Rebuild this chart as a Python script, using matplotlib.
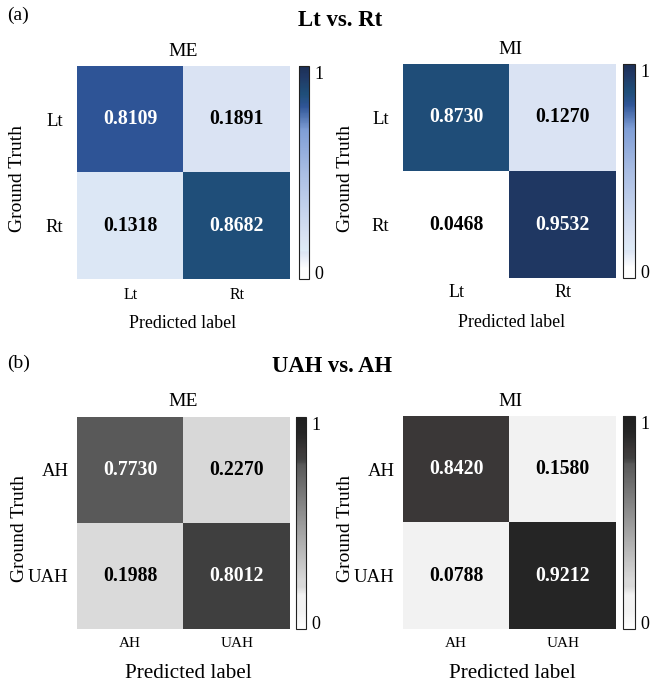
import matplotlib
matplotlib.use("Agg")
import matplotlib.pyplot as plt
from matplotlib.colors import LinearSegmentedColormap
import numpy as np

plt.rcParams["font.family"] = ["Liberation Serif", "DejaVu Serif"]

# data
lr_labels = ["Lt", "Rt"]
lr_me = [[0.8109, 0.1891], [0.1318, 0.8682]]
lr_mi = [[0.8730, 0.1270], [0.0468, 0.9532]]
ah_labels = ["AH", "UAH"]
ah_me = [[0.7730, 0.2270], [0.1988, 0.8012]]
ah_mi = [[0.8420, 0.1580], [0.0788, 0.9212]]

# colour maps anchored on the cell shades
BLUES = LinearSegmentedColormap.from_list("blues_x", [
    (0.0, "#ffffff"), (0.0468, "#ffffff"), (0.127, "#dae3f3"), (0.1318, "#deebf7"),
    (0.1891, "#dae3f3"), (0.5, "#a9bde3"), (0.7, "#7f9ed6"), (0.8109, "#2f5597"),
    (0.8682, "#1f4e79"), (0.873, "#1f4e79"), (0.9532, "#203864"), (1.0, "#1c2f55")])
GREYS = LinearSegmentedColormap.from_list("greys_x", [
    (0.0, "#ffffff"), (0.0788, "#f2f2f2"), (0.158, "#f2f2f2"), (0.1988, "#d9d9d9"),
    (0.227, "#d9d9d9"), (0.773, "#595959"), (0.8012, "#404040"), (0.842, "#3b3838"),
    (0.9212, "#262626"), (1.0, "#1f1f1f")])

W, H = 650, 687
fig = plt.figure(figsize=(W / 100, H / 100), dpi=100)


def box(x0, y0, x1, y1):
    return [x0 / W, 1 - y1 / H, (x1 - x0) / W, (y1 - y0) / H]


def T(x, y, s, size, **kw):
    fig.text(x / W, 1 - y / H, s, fontsize=size, ha=kw.pop("ha", "center"),
             va=kw.pop("va", "center"), **kw)


def panel(ax_px, cb_px, mat, labels, cmap, ytick_fs, xtick_fs, ypad, xpad):
    ax = fig.add_axes(box(*ax_px))
    mat = np.array(mat)
    im = ax.imshow(mat, cmap=cmap, vmin=0, vmax=1, aspect="auto", interpolation="nearest")
    for i in range(2):
        for j in range(2):
            v = mat[i, j]
            ax.text(j, i, f"{v:.4f}", ha="center", va="center", fontsize=14.2,
                    weight="bold", color="white" if v > 0.5 else "black")
    ax.set_xticks(range(2)); ax.set_xticklabels(labels, fontsize=xtick_fs)
    ax.set_yticks(range(2)); ax.set_yticklabels(labels, fontsize=ytick_fs)
    ax.tick_params(axis="x", length=0, pad=xpad)
    ax.tick_params(axis="y", length=0, pad=ypad)
    for s in ax.spines.values():
        s.set_visible(False)
    cax = fig.add_axes(box(*cb_px))
    cb = fig.colorbar(im, cax=cax, ticks=[0, 1])
    cb.ax.set_yticklabels(["0", "1"], fontsize=13)
    lo, hi = cb.ax.get_yticklabels()
    lo.set_va("baseline"); hi.set_va("top")
    cb.ax.tick_params(length=0, pad=4)
    cb.outline.set_linewidth(0.8)
    cb.outline.set_edgecolor("#222222")
    return ax


# (a) Lt vs. Rt
T(18, 15, "(a)", 14)
T(340, 21, "Lt vs. Rt", 16.4, weight="bold")
panel((77, 66, 290, 279), (299, 66, 309, 279), lr_me, lr_labels, BLUES, 13.5, 11.5, 10, 6)
panel((403, 64, 616, 278), (623, 64, 635, 278), lr_mi, lr_labels, BLUES, 13.5, 13, 10, 4)
T(183, 51, "ME", 14)
T(510, 50, "MI", 14)
T(17.5, 178, "Ground Truth", 14, rotation=90)
T(345.5, 178, "Ground Truth", 14, rotation=90)
T(183, 324, "Predicted label", 12.9)
T(512, 323, "Predicted label", 12.9)

# (b) UAH vs. AH
T(19, 363, "(b)", 14)
T(332, 366, "UAH vs. AH", 16.3, weight="bold")
panel((77, 417, 290, 629), (296, 417, 306, 629), ah_me, ah_labels, GREYS, 13.5, 11, 6, 6)
panel((403, 416, 616, 629), (623, 416, 635, 629), ah_mi, ah_labels, GREYS, 13.5, 11, 6, 6)
T(183, 402, "ME", 14)
T(510, 401, "MI", 14)
T(20, 528, "Ground Truth", 14, rotation=90)
T(346, 529, "Ground Truth", 14, rotation=90)
T(188, 674, "Predicted label", 15.2)
T(512, 674, "Predicted label", 15.2)

fig.savefig("out.png", dpi=100, facecolor="white")
